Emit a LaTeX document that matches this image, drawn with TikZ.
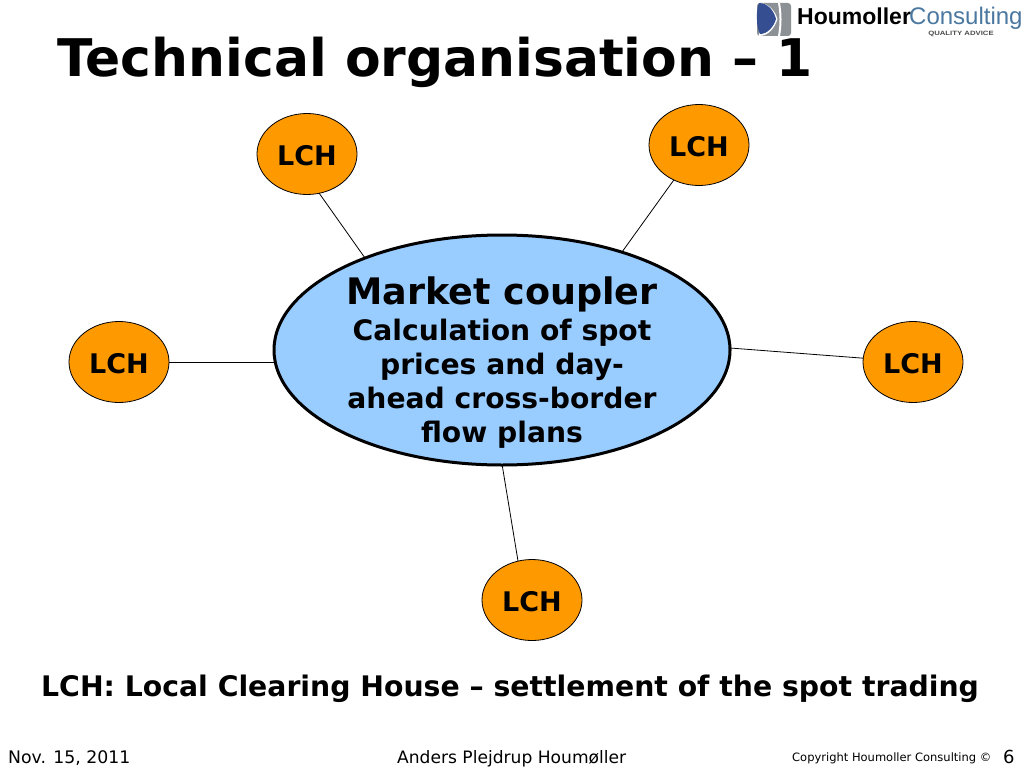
\documentclass[tikz,border=0pt]{standalone}
\usepackage{fontspec}
\setmainfont{DejaVu Sans}
\newfontfamily\logofont{Liberation Sans}
\usetikzlibrary{shapes.geometric}
\definecolor{lchfill}{RGB}{255,153,0}
\definecolor{coupler}{RGB}{153,204,255}
\definecolor{logoblue}{RGB}{52,78,145}
\definecolor{logogrey}{RGB}{140,145,150}
\definecolor{logotext}{RGB}{74,120,160}
\tikzset{
  x=1pt,y=-1pt,
  lch/.style={ellipse,draw=black,line width=0.8pt,fill=lchfill,minimum width=100pt,minimum height=81pt,inner sep=0pt,font=\fontsize{27}{27}\selectfont\bfseries},
  link/.style={draw=black,line width=0.8pt},
  txt/.style={inner sep=0pt,anchor=base west},
}
\newcommand{\lchtext}{\raisebox{-1.5pt}[\height][\depth]{LCH}}
\begin{document}
\begin{tikzpicture}
\useasboundingbox (0,0) rectangle (1024,768);
\fill[white] (0,0) rectangle (1024,768);
\coordinate (c) at (502,350);
\node[lch] (l1) at (307,154) {\lchtext};
\node[lch] (l2) at (699,145) {\lchtext};
\node[lch] (l3) at (119,362) {\lchtext};
\node[lch] (l4) at (913,362) {\lchtext};
\node[lch] (l5) at (532,600) {\lchtext};
\coordinate (s1) at (319,193);
\coordinate (s5) at (518,561);
\coordinate (e1) at (365,258);
\coordinate (e2) at (622,252);
\coordinate (e3) at (275,362);
\coordinate (e4) at (730,348);
\coordinate (e5) at (502,464);
\draw[link] (s1) -- (e1);
\draw[link] (l2) -- (e2);
\draw[link] (l3) -- (e3);
\draw[link] (l4) -- (e4);
\draw[link] (s5) -- (e5);
\node[ellipse,draw=black,line width=3pt,fill=coupler,minimum width=456pt,minimum height=230pt,inner sep=0pt] (m) at (c) {};
\node[txt,anchor=base,font=\fontsize{36.5}{36.5}\selectfont\bfseries] (m0) at (502,304) {Market coupler};
\node[txt,anchor=base,font=\fontsize{28.2}{28.2}\selectfont\bfseries] (m1) at (502,340) {Calculation of spot};
\node[txt,anchor=base,font=\fontsize{28.2}{28.2}\selectfont\bfseries] (m2) at (502,374) {prices and day-};
\node[txt,anchor=base,font=\fontsize{28.2}{28.2}\selectfont\bfseries] (m3) at (502,408) {ahead cross-border};
\node[txt,anchor=base,font=\fontsize{28.2}{28.2}\selectfont\bfseries] (m4) at (502,442) {flow plans};
\node[txt,font=\fontsize{51.9}{51.9}\selectfont\bfseries] (title) at (57,76) {Technical organisation – 1};
\node[txt,font=\fontsize{28.3}{28.3}\selectfont\bfseries] (note) at (41,696) {LCH: Local Clearing House – settlement of the spot trading};
\node[txt,font=\fontsize{17.3}{17.3}\selectfont] (f1) at (8,763) {Nov. 15, 2011};
\node[txt,font=\fontsize{17.1}{17.1}\selectfont] (f2) at (397,763) {Anders Plejdrup Houmøller};
\node[txt,font=\fontsize{11.5}{11.5}\selectfont] (f3) at (792,761) {Copyright Houmoller Consulting ©};
\node[txt,font=\fontsize{18}{18}\selectfont] (f4) at (1003,763) {6};
% logo
\fill[logogrey,rounded corners=3pt] (757,3) rectangle (791,36);
\fill[white] (759,3) .. controls (769,3) and (775,11) .. (777.5,19) .. controls (775,27) and (769,36) .. (759,36) -- cycle;
\fill[logoblue] (759,3) .. controls (768,3) and (774,11) .. (776,19) .. controls (774,26) and (768,34) .. (760,34) .. controls (756,28) and (756,9) .. (759,3) -- cycle;
\fill[white] (778,3) .. controls (780,14) and (780,25) .. (778,36) -- (780,36) .. controls (782,25) and (782,14) .. (780,3) -- cycle;
\node[txt,font=\logofont\fontsize{23}{23}\selectfont\bfseries] (lg1) at (797,25) {Houmoller};
\node[txt,font=\logofont\fontsize{24}{24}\selectfont,text=logotext] (lg2) at (909,25) {Consulting};
\node[txt,font=\logofont\fontsize{6.2}{6.2}\selectfont\bfseries,text=black!70,xscale=1.25] (lg3) at (928,35.5) {QUALITY ADVICE};
\end{tikzpicture}
\end{document}
